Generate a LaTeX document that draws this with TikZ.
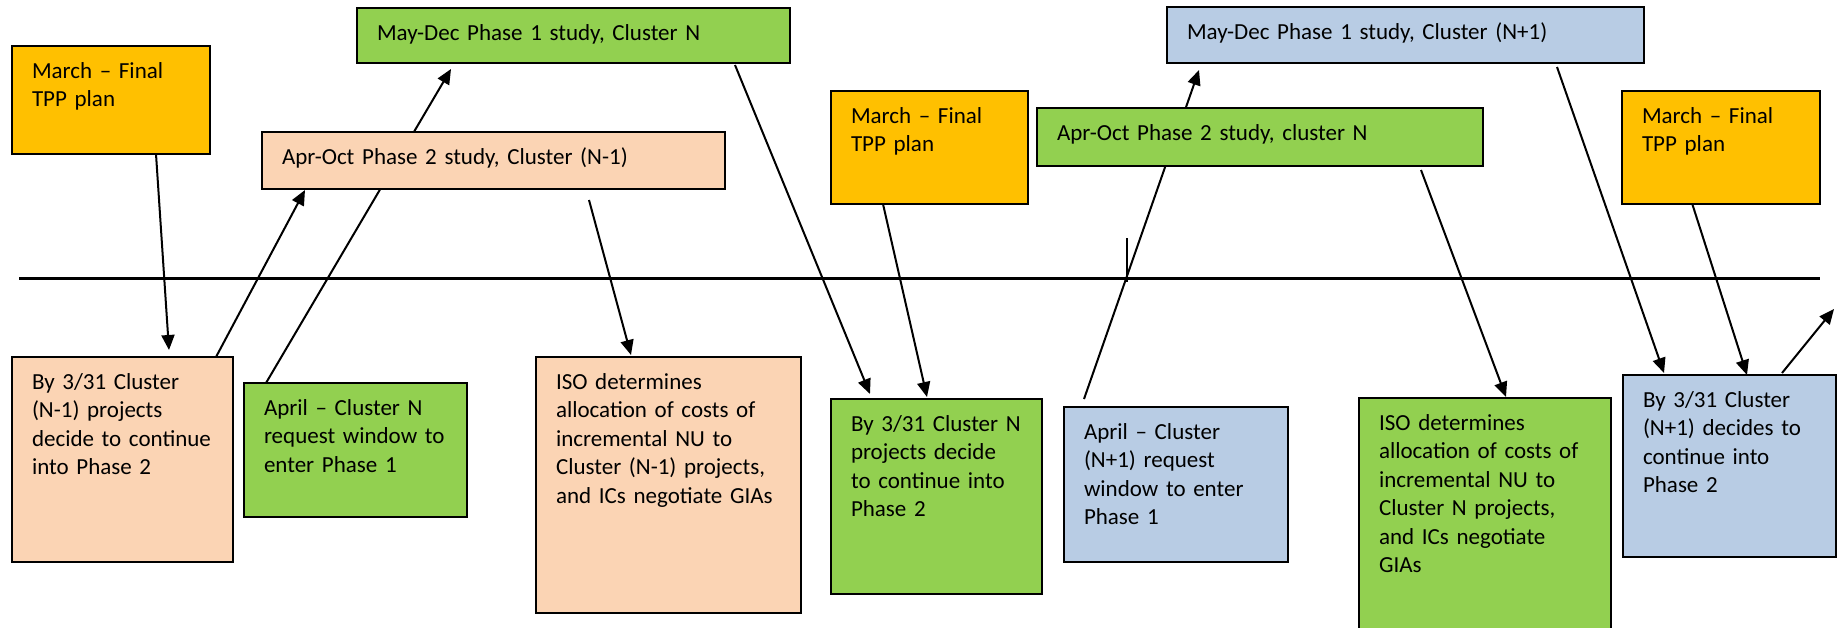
\documentclass[tikz,border=0pt]{standalone}
\usepackage{fontspec}
\setmainfont{Carlito}
\usetikzlibrary{arrows.meta}
\pgfdeclarelayer{bg}
\pgfsetlayers{bg,main}

\definecolor{tppOrange}{HTML}{FFC000}
\definecolor{clGreen}{HTML}{92D050}
\definecolor{clPeach}{HTML}{FBD4B4}
\definecolor{clBlue}{HTML}{B8CCE4}

% card text: no hyphenation, fixed leading
\newcommand\cardfont{\fontsize{23}{28.5}\selectfont}
\hyphenpenalty=10000
\exhyphenpenalty=10000

\tikzset{
  card/.style={draw=black, line width=2pt, anchor=north west, outer sep=0pt,
    inner xsep=20pt, inner ysep=12pt, text height=20pt, align=left,
    font=\cardfont},
  link/.style={line width=2pt, -{Triangle[length=15pt,width=13pt]}},
  plain/.style={line width=2pt},
  timeline/.style={line width=3pt}
}

\begin{document}
\begin{tikzpicture}[x=1pt,y=-1pt]
\useasboundingbox (0,0) rectangle (1847,627);

% upper row: plans and study periods
\node[card, fill=tppOrange, text width=158pt, text depth=64pt] (m1) at (12,46) {March~–~Final\\TPP~plan};
\node[card, fill=clGreen, text width=393pt, text depth=11pt] (pd1) at (357,8) {May-Dec Phase 1 study, Cluster N};
\node[card, fill=clPeach, text width=423pt, text depth=13pt] (p2a) at (262,132) {Apr-Oct Phase 2 study, Cluster (N-1)};
\node[card, fill=tppOrange, text width=157pt, text depth=69pt] (m2) at (831,91) {March~–~Final\\TPP~plan};
\node[card, fill=clGreen, text width=406pt, text depth=14pt] (p2b) at (1037,108) {Apr-Oct Phase 2 study, cluster N};
\node[card, fill=clBlue, text width=437pt, text depth=12pt] (pd2) at (1167,7) {May-Dec Phase 1 study, Cluster (N+1)};
\node[card, fill=tppOrange, text width=158pt, text depth=69pt] (m3) at (1622,91) {March~–~Final\\TPP~plan};

% lower row: decisions and request windows
\node[card, fill=clPeach, text width=181pt, text depth=161pt] (d1) at (12,357)
  {By~3/31~Cluster\\(N-1)~projects\\decide~to~continue\\into~Phase~2};
\node[card, fill=clGreen, text width=183pt, text depth=90pt] (a1) at (244,383)
  {April~–~Cluster~N\\request~window~to\\enter~Phase~1};
\node[card, fill=clPeach, text width=225pt, text depth=212pt] (iso1) at (536,357)
  {ISO~determines\\allocation~of~costs~of\\incremental~NU~to\\Cluster~(N-1)~projects,\\and~ICs~negotiate~GIAs};
\node[card, fill=clGreen, text width=171pt, text depth=151pt] (d2) at (831,399)
  {By~3/31~Cluster~N\\projects~decide\\to~continue~into\\Phase~2};
\node[card, fill=clBlue, text width=184pt, text depth=111pt] (a2) at (1064,407)
  {April~–~Cluster\\(N+1)~request\\window~to~enter\\Phase~1};
\node[card, fill=clGreen, text width=212pt, text depth=188pt] (iso2) at (1359,398)
  {ISO~determines\\allocation~of~costs~of\\incremental~NU~to\\Cluster~N~projects,\\and~ICs~negotiate\\GIAs};
\node[card, fill=clBlue, text width=173pt, text depth=138pt] (d3) at (1623,375)
  {By~3/31~Cluster\\(N+1)~decides~to\\continue~into\\Phase~2};

% time axis and its tick
\coordinate (tl0) at (19,278);
\coordinate (tl1) at (1820,278);
\coordinate (tk0) at (1127,238);
\coordinate (tk1) at (1127,282);
\coordinate (onward) at (1834,309);

\begin{pgfonlayer}{bg}
  \draw[timeline] (tl0) -- (tl1);
  \draw[plain] (tk0) -- (tk1);

  \draw[link] ([xshift=144pt]m1.south west) -- ([xshift=157pt,yshift=7pt]d1.north west);
  \draw[link] ([xshift=204pt]d1.north west) -- ([xshift=43pt,yshift=-1pt]p2a.south west);
  \draw[link] ([xshift=22pt]a1.north west) -- ([xshift=94pt,yshift=-6pt]pd1.south west);
  \draw[link] ([xshift=327pt,yshift=-11pt]p2a.south west) -- ([xshift=95pt,yshift=2pt]iso1.north west);
  \draw[link] ([xshift=378pt,yshift=-2pt]pd1.south west) -- ([xshift=39pt,yshift=5pt]d2.north west);
  \draw[link] ([xshift=52pt]m2.south west) -- ([xshift=96pt,yshift=2pt]d2.north west);
  \draw[link] ([xshift=20pt,yshift=8pt]a2.north west) -- ([xshift=32pt,yshift=-7pt]pd2.south west);
  \draw[link] ([xshift=384pt,yshift=-4pt]p2b.south west) -- ([xshift=147pt,yshift=1pt]iso2.north west);
  \draw[link] ([xshift=390pt,yshift=-4pt]pd2.south west) -- ([xshift=41pt,yshift=2pt]d3.north west);
  \draw[link] ([xshift=69pt,yshift=4pt]m3.south west) -- ([xshift=124pt]d3.north west);
  \draw[link] ([xshift=159pt,yshift=2pt]d3.north west) -- (onward);
\end{pgfonlayer}
\end{tikzpicture}
\end{document}
